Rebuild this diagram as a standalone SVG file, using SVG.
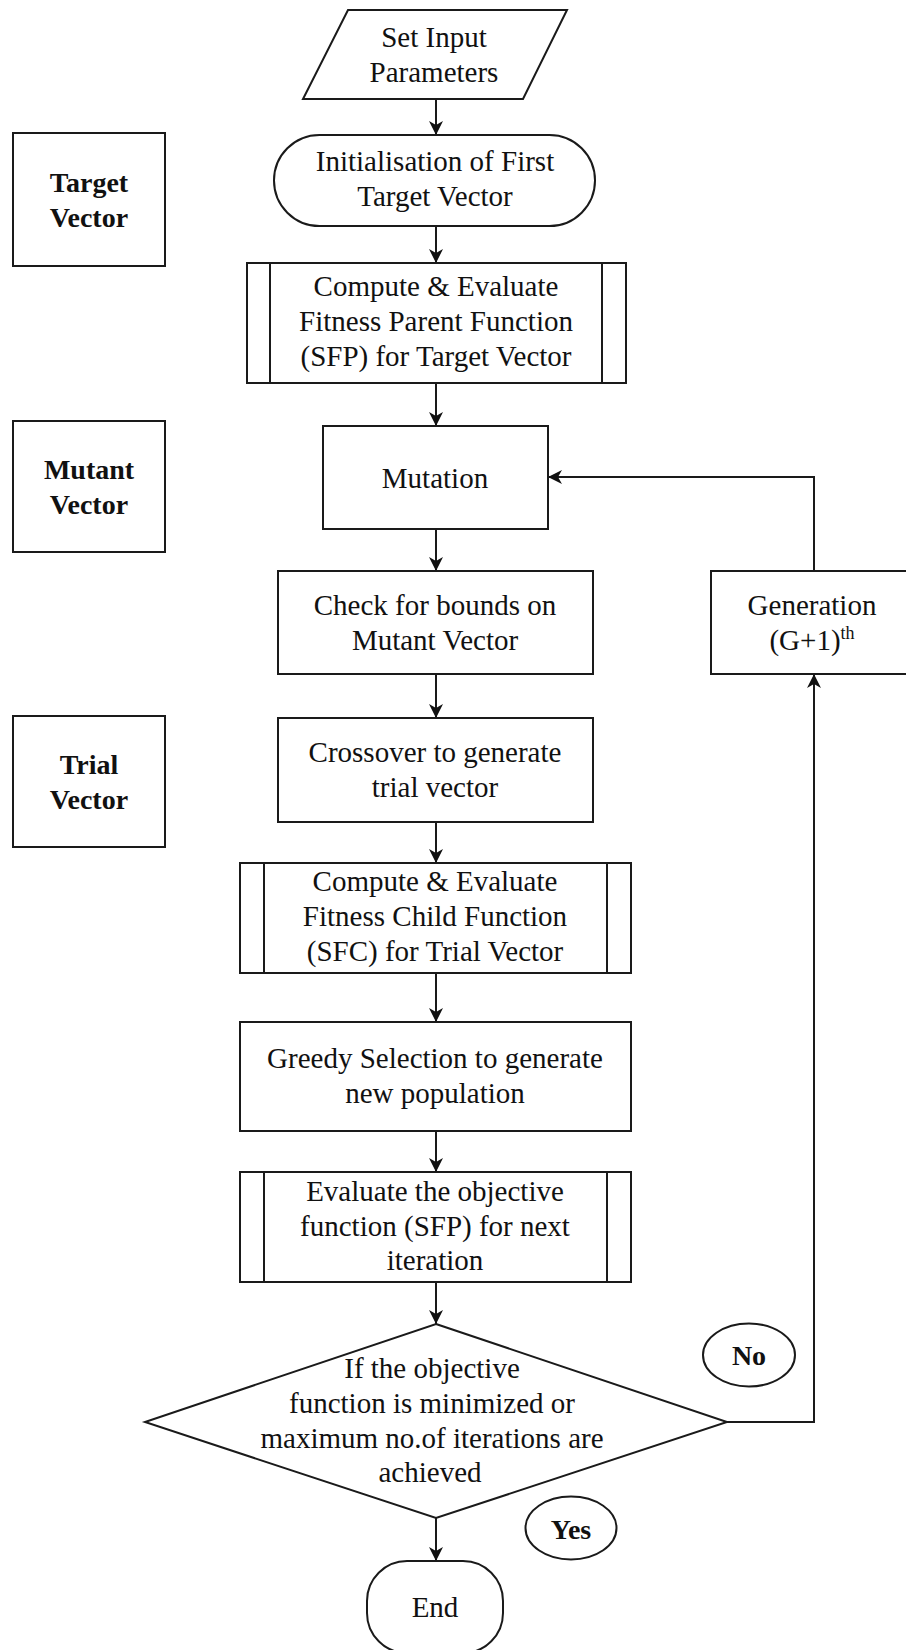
<svg xmlns="http://www.w3.org/2000/svg" width="906" height="1650" viewBox="0 0 906 1650">
<defs>
<marker id="arr" viewBox="0 0 14 14" refX="14" refY="7" markerWidth="14" markerHeight="14" markerUnits="userSpaceOnUse" orient="auto">
<path d="M0,0 L14,7 L0,14 L4,7 Z" fill="#111"/>
</marker>
<style>
.s{fill:#fff;stroke:#1a1a1a;stroke-width:2}
.l{fill:none;stroke:#1a1a1a;stroke-width:2}
.t{font-family:"Liberation Serif","Times New Roman",serif;font-size:29px;fill:#111;text-anchor:middle}
.b{font-family:"Liberation Serif","Times New Roman",serif;font-size:28px;font-weight:bold;fill:#111;text-anchor:middle}
.c{fill:none;stroke:#1a1a1a;stroke-width:2}
</style>
</defs>
<rect width="906" height="1650" fill="#fff"/>

<g id="connectors">
<line class="l" x1="436" y1="100" x2="436" y2="135" marker-end="url(#arr)"/>
<line class="l" x1="436" y1="226" x2="436" y2="263" marker-end="url(#arr)"/>
<line class="l" x1="436" y1="383" x2="436" y2="426" marker-end="url(#arr)"/>
<line class="l" x1="436" y1="529" x2="436" y2="571" marker-end="url(#arr)"/>
<line class="l" x1="436" y1="674" x2="436" y2="718" marker-end="url(#arr)"/>
<line class="l" x1="436" y1="822" x2="436" y2="863" marker-end="url(#arr)"/>
<line class="l" x1="436" y1="973" x2="436" y2="1022" marker-end="url(#arr)"/>
<line class="l" x1="436" y1="1131" x2="436" y2="1172" marker-end="url(#arr)"/>
<line class="l" x1="436" y1="1282" x2="436" y2="1324" marker-end="url(#arr)"/>
<line class="l" x1="436" y1="1518" x2="436" y2="1561" marker-end="url(#arr)"/>
<polyline class="l" points="727,1422 814,1422 814,674" marker-end="url(#arr)"/>
<polyline class="l" points="814,571 814,477 548,477" marker-end="url(#arr)"/>
</g>

<g id="input">
<polygon class="s" points="348,10 567,10 523,99 303,99"/>
<text class="t" x="434" y="47">Set Input</text>
<text class="t" x="434" y="82">Parameters</text>
</g>

<g id="label-target">
<rect class="s" x="13" y="133" width="152" height="133"/>
<text class="b" x="89" y="192">Target</text>
<text class="b" x="89" y="227">Vector</text>
</g>

<g id="init">
<rect class="s" x="274" y="135" width="321" height="91" rx="45.5" ry="45.5"/>
<text class="t" x="435" y="171">Initialisation of First</text>
<text class="t" x="435" y="206">Target Vector</text>
</g>

<g id="compute-parent">
<rect class="s" x="247" y="263" width="379" height="120"/>
<line class="l" x1="270" y1="263" x2="270" y2="383"/>
<line class="l" x1="602" y1="263" x2="602" y2="383"/>
<text class="t" x="436" y="296">Compute &amp; Evaluate</text>
<text class="t" x="436" y="331">Fitness Parent Function</text>
<text class="t" x="436" y="366">(SFP) for Target Vector</text>
</g>

<g id="label-mutant">
<rect class="s" x="13" y="421" width="152" height="131"/>
<text class="b" x="89" y="479">Mutant</text>
<text class="b" x="89" y="514">Vector</text>
</g>

<g id="mutation">
<rect class="s" x="323" y="426" width="225" height="103"/>
<text class="t" x="435" y="488">Mutation</text>
</g>

<g id="check">
<rect class="s" x="278" y="571" width="315" height="103"/>
<text class="t" x="435" y="615">Check for bounds on</text>
<text class="t" x="435" y="650">Mutant Vector</text>
</g>

<g id="generation">
<rect class="s" x="711" y="571" width="205" height="103"/>
<text class="t" x="812" y="615">Generation</text>
<text class="t" x="812" y="650">(G+1)<tspan font-size="18" dy="-11">th</tspan></text>
</g>

<g id="label-trial">
<rect class="s" x="13" y="716" width="152" height="131"/>
<text class="b" x="89" y="774">Trial</text>
<text class="b" x="89" y="809">Vector</text>
</g>

<g id="crossover">
<rect class="s" x="278" y="718" width="315" height="104"/>
<text class="t" x="435" y="762">Crossover to generate</text>
<text class="t" x="435" y="797">trial vector</text>
</g>

<g id="compute-child">
<rect class="s" x="240" y="863" width="391" height="110"/>
<line class="l" x1="264" y1="863" x2="264" y2="973"/>
<line class="l" x1="607" y1="863" x2="607" y2="973"/>
<text class="t" x="435" y="891">Compute &amp; Evaluate</text>
<text class="t" x="435" y="926">Fitness Child Function</text>
<text class="t" x="435" y="961">(SFC) for Trial Vector</text>
</g>

<g id="greedy">
<rect class="s" x="240" y="1022" width="391" height="109"/>
<text class="t" x="435" y="1068">Greedy Selection to generate</text>
<text class="t" x="435" y="1103">new population</text>
</g>

<g id="evaluate">
<rect class="s" x="240" y="1172" width="391" height="110"/>
<line class="l" x1="264" y1="1172" x2="264" y2="1282"/>
<line class="l" x1="607" y1="1172" x2="607" y2="1282"/>
<text class="t" x="435" y="1201">Evaluate the objective</text>
<text class="t" x="435" y="1236">function (SFP) for next</text>
<text class="t" x="435" y="1270">iteration</text>
</g>

<g id="decision">
<polygon class="s" points="436,1324 727,1422 436,1518 145,1422"/>
<text class="t" x="432" y="1378">If the objective</text>
<text class="t" x="432" y="1413">function is minimized or</text>
<text class="t" x="432" y="1448">maximum no.of iterations are</text>
<text class="t" x="430" y="1482">achieved</text>
</g>

<g id="no-label">
<ellipse class="c" cx="749" cy="1355" rx="46" ry="31.5"/>
<text class="b" x="749" y="1365" font-size="27">No</text>
</g>

<g id="yes-label">
<ellipse class="c" cx="571" cy="1528" rx="45.5" ry="31.5"/>
<text class="b" x="571" y="1539" font-size="27">Yes</text>
</g>

<g id="end">
<rect class="s" x="367" y="1561" width="136" height="92" rx="40" ry="40"/>
<text class="t" x="435" y="1617">End</text>
</g>
</svg>
